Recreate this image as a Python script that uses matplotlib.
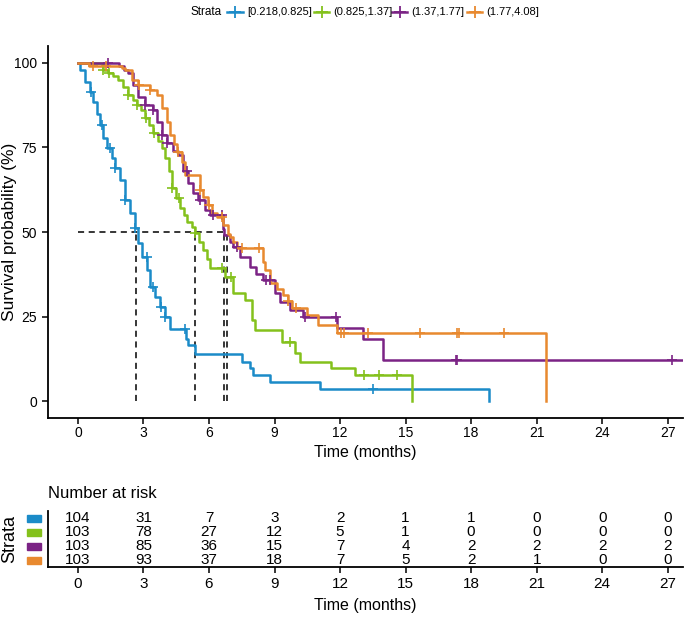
import matplotlib
matplotlib.use('Agg')
import matplotlib.pyplot as plt
import matplotlib.transforms as mtransforms
from matplotlib.lines import Line2D
from matplotlib.patches import Rectangle
import numpy as np

plt.rcParams['font.family'] = ['Liberation Sans', 'DejaVu Sans']

# ---------------- data ----------------
strata = ['[0.218,0.825]', '(0.825,1.37]', '(1.37,1.77]', '(1.77,4.08]']
colors = ['#1B8BC8', '#84C11C', '#7B2385', '#E8892F']

blue_t = [0, 0.1, 0.32, 0.55, 0.7, 0.87, 1.0, 1.15, 1.33, 1.55, 1.7, 1.92, 2.15, 2.38, 2.6,
          2.75, 2.93, 3.16, 3.3, 3.52, 3.75, 3.98, 4.2, 4.95, 5.05, 5.35, 7.5, 7.87, 8.0, 8.8,
          11.1, 18.8]
blue_s = [100, 98, 94.4, 91.4, 88.5, 85, 81.7, 77.8, 74.9, 71.9, 69, 65.4, 59.5, 55.6, 51.2,
          46.7, 42.6, 38.8, 33.7, 30.8, 27.8, 24.9, 21.4, 18.5, 16.5, 13.9, 11.6, 9.7, 7.7, 5.7,
          3.7, 0]
blue_cens = [0.6, 1.1, 1.45, 1.7, 2.15, 2.6, 3.15, 3.45, 3.8, 4.0, 4.9, 13.5]

green_t = [0, 1.15, 1.37, 1.6, 1.83, 2.05, 2.3, 2.5, 2.7, 2.9, 3.07, 3.25, 3.43, 3.65, 3.84,
           4.0, 4.15, 4.3, 4.5, 4.67, 4.85, 5.0, 5.2, 5.35, 5.55, 5.72, 5.9, 6.04, 6.73, 7.1,
           7.64, 7.96, 8.1, 9.33, 9.93, 10.16, 11.6, 12.7, 15.3]
green_s = [100, 98, 97, 96, 95, 93, 90.5, 89, 87.6, 86, 83.7, 81.5, 79.3, 77, 74.9,
           72, 68, 63, 60, 57, 55, 53, 51.5, 49.7, 47, 44.7, 42, 39.5, 36.7, 32,
           30, 24, 21, 17.5, 14.2, 11.5, 9.8, 7.8, 0]
green_cens = [1.15, 1.4, 2.3, 2.7, 3.1, 3.5, 4.3, 4.65, 5.35, 6.6, 7.0, 9.7, 13.1, 13.8, 14.6]

purple_t = [0, 1.9, 2.1, 2.3, 2.5, 2.75, 3.07, 3.43, 3.6, 3.84, 4.1, 4.35, 4.58, 4.8, 5.05,
            5.26, 5.5, 5.8, 6.04, 6.64, 6.7, 6.96, 7.1, 7.4, 7.87, 8.15, 8.47, 9.0, 9.24, 9.7,
            10.3, 11.85, 13.04, 13.96, 27.7]
purple_s = [100, 99, 98, 97, 93.5, 90, 87.6, 86, 82.5, 78.7, 76.3, 74, 72.8, 68, 64.5,
            61.5, 59.5, 56.5, 55, 51, 49, 47, 45.6, 42.6, 39.6, 37.5, 35.8, 32, 29.3, 27,
            24.9, 21.6, 18.3, 12.1, 12.1]
purple_cens = [1.37, 3.07, 3.43, 3.84, 4.1, 5.0, 5.6, 6.2, 6.6, 7.3, 8.6, 8.8, 10.4, 11.8,
               17.3, 17.35, 27.2]

orange_t = [0, 0.5, 2.0, 2.15, 2.47, 2.75, 3.3, 3.6, 3.84, 4.07, 4.2, 4.4, 4.53, 4.76, 4.9,
            5.6, 5.72, 5.95, 6.13, 6.36, 6.64, 6.85, 6.96, 7.1, 7.28, 8.45, 8.56, 8.8, 9.1,
            9.38, 9.6, 9.8, 10.5, 11.0, 11.85, 21.45]
orange_s = [100, 99, 98.5, 98, 95, 93.5, 92, 90.5, 86.7, 82.5, 78.7, 76, 73.7, 70.7, 67,
            62.4, 60.4, 58, 55.6, 54.4, 52, 49.5, 48.5, 47, 45.2, 41, 38.8, 35, 33,
            31.4, 29.5, 27.5, 25.4, 22.5, 20.1, 0]
orange_cens = [0.7, 1.3, 2.8, 3.3, 4.6, 5.6, 6.0, 6.6, 7.5, 8.3, 9.6, 10.0, 12.05, 12.2,
               13.3, 15.65, 17.35, 17.45, 19.5]

medians = [2.65, 5.35, 6.68, 6.83]

risk_times = [0, 3, 6, 9, 12, 15, 18, 21, 24, 27]
risk_blue = [104, 31, 7, 3, 2, 1, 1, 0, 0, 0]
risk_green = [103, 78, 27, 12, 5, 1, 0, 0, 0, 0]
risk_purple = [103, 85, 36, 15, 7, 4, 2, 2, 2, 2]
risk_orange = [103, 93, 37, 18, 7, 5, 2, 1, 0, 0]

x_ticks = [0, 3, 6, 9, 12, 15, 18, 21, 24, 27]
y_ticks = [0, 25, 50, 75, 100]

curves = [(blue_t, blue_s, blue_cens), (green_t, green_s, green_cens),
          (purple_t, purple_s, purple_cens), (orange_t, orange_s, orange_cens)]
risks = [risk_blue, risk_green, risk_purple, risk_orange]

# ---------------- figure ----------------
W, H = 685, 639
fig = plt.figure(figsize=(W / 100, H / 100), dpi=100)
fx = lambda px: px / W
fy = lambda py: 1 - py / H

ax = fig.add_axes([fx(48), fy(418), fx(683) - fx(48), fy(46) - fy(418)])
ax.set_xlim(-1.37, 27.7)
ax.set_ylim(-5, 105)

# median lines
ax.plot([0, max(medians)], [50, 50], color='black', ls=(0, (4, 3)), lw=1.1, zorder=1)
for m in medians:
    ax.plot([m, m], [0, 50], color='black', ls=(0, (4, 3)), lw=1.1, zorder=1)

for (t, s, cens), c in zip(curves, colors):
    ax.step(t, s, where='post', color=c, lw=1.8, zorder=3)
    ta = np.asarray(t)
    sa = np.asarray(s)
    cy = [sa[np.searchsorted(ta, ct, side='right') - 1] for ct in cens]
    ax.plot(cens, cy, ls='none', marker='+', ms=7, mew=1.2, color=c, zorder=4)

for sp in ['top', 'right']:
    ax.spines[sp].set_visible(False)
for sp in ['left', 'bottom']:
    ax.spines[sp].set_linewidth(1.3)
ax.set_xticks(x_ticks)
ax.set_yticks(y_ticks)
ax.tick_params(axis='both', direction='out', length=4, width=1.1, labelsize=10, pad=2)
ax.tick_params(axis='y', pad=4)
ax.set_xlabel('Time (months)', fontsize=11.5, labelpad=3)
fig.text(fx(10), fy(232), 'Survival probability (%)', rotation=90, ha='center',
         va='center', fontsize=12.5)

# legend (manual)
ly = fy(12)
fig.text(fx(222), ly, 'Strata', ha='right', va='center', fontsize=8.5)
handle_x = [(227, 243), (314, 329), (392, 407), (467, 482)]
text_x = [247, 333, 411, 486]
for (x0, x1), tx, c, lab in zip(handle_x, text_x, colors, strata):
    fig.add_artist(Line2D([fx(x0), fx(x1)], [ly, ly], color=c, lw=1.8,
                          transform=fig.transFigure))
    fig.add_artist(Line2D([fx((x0 + x1) / 2)], [ly], color=c, marker='+', ms=8, mew=1.3,
                          transform=fig.transFigure))
    fig.text(fx(tx), ly, lab, ha='left', va='center', fontsize=8)

# ---------------- risk table ----------------
rax = fig.add_axes([fx(48), fy(567), fx(683) - fx(48), fy(511) - fy(567)])
rax.set_xlim(-1.37, 27.7)
rax.set_ylim(0.5, 4.5)
blend = mtransforms.blended_transform_factory(fig.transFigure, rax.transData)
for i, (r, c) in enumerate(zip(risks, colors)):
    yrow = 4 - i
    for tt, v in zip(risk_times, r):
        rax.text(tt, yrow, str(v), ha='center', va='center', fontsize=11)
    rax.add_patch(Rectangle((fx(27), yrow - 0.25), fx(41) - fx(27), 0.5, transform=blend,
                            color=c, clip_on=False))
for sp in ['top', 'right']:
    rax.spines[sp].set_visible(False)
for sp in ['left', 'bottom']:
    rax.spines[sp].set_linewidth(1.3)
rax.set_yticks([])
rax.set_xticks(x_ticks)
rax.tick_params(axis='x', direction='out', length=4, width=1.1, labelsize=11, pad=3)
rax.set_xlabel('Time (months)', fontsize=11.5, labelpad=5)
fig.text(fx(10), fy(539), 'Strata', rotation=90, ha='center', va='center', fontsize=13)
fig.text(fx(48), fy(494), 'Number at risk', ha='left', va='center', fontsize=12)

fig.savefig('out.png', dpi=100)
